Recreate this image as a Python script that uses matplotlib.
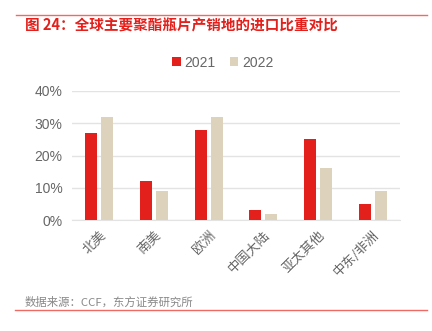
import matplotlib
matplotlib.use("Agg")
import matplotlib.pyplot as plt
import numpy as np
from matplotlib.lines import Line2D

plt.rcParams['font.family'] = ['Noto Sans CJK SC', 'DejaVu Sans']

regions = ['北美', '南美', '欧洲', '中国大陆', '亚太其他', '中东/非洲']
share_2021 = [27, 12, 28, 3, 25, 5]
share_2022 = [32, 9, 32, 2, 16, 9]

RED = '#E3201B'
BEIGE = '#DDD3BC'
GREY = '#666666'
LATIN = ['Liberation Sans', 'Noto Sans CJK SC']

fig = plt.figure(figsize=(4.32, 3.31), dpi=100)
ax = fig.add_axes([72 / 432, 1 - 220 / 331, 328 / 432, 129 / 331])

x = np.arange(len(regions))
w = 0.22
ax.bar(x - w / 2 - 0.035, share_2021, width=w, color=RED, label='2021', zorder=3)
ax.bar(x + w / 2 + 0.035, share_2022, width=w, color=BEIGE, label='2022', zorder=3)

ax.set_xlim(-0.5, len(regions) - 0.5)
ax.set_ylim(0, 40)
ax.set_yticks([0, 10, 20, 30, 40])
ax.set_yticklabels(['{}%'.format(v) for v in [0, 10, 20, 30, 40]], family=LATIN, fontsize=10)
ax.yaxis.grid(True, color='#E3E3E3', linewidth=1, zorder=0)
ax.set_xticks(x)
ax.set_xticklabels(regions, rotation=45, ha='right', rotation_mode='anchor', fontsize=9.5)
ax.tick_params(axis='both', length=0, colors=GREY)
ax.tick_params(axis='x', pad=6)
ax.tick_params(axis='y', pad=7)
for s in ['top', 'right', 'left']:
    ax.spines[s].set_visible(False)
ax.spines['bottom'].set_color('#E3E3E3')

leg = ax.legend(loc='upper center', bbox_to_anchor=(0.46, 1.37), ncol=2, frameon=False,
                prop={'family': LATIN, 'size': 10}, handlelength=0.6, handleheight=0.6,
                handletextpad=0.3, columnspacing=1.0, labelcolor=GREY)

# header / footer
fig.add_artist(Line2D([16 / 432, 427 / 432], [1 - 15 / 331, 1 - 15 / 331], color='#F06A65', linewidth=1))
fig.text(25 / 432, 1 - 26 / 331, '图 24：全球主要聚酯瓶片产销地的进口比重对比', color=RED,
         fontsize=10.5, fontweight='bold', va='center', ha='left')
fig.add_artist(Line2D([15 / 432, 427 / 432], [1 - 310 / 331, 1 - 310 / 331], color='#F06A65', linewidth=1))
fig.text(25 / 432, 1 - 302 / 331, '数据来源：CCF，东方证券研究所', color='#888888',
         fontsize=8.2, va='center', ha='left')

fig.savefig('out.png', dpi=100)
